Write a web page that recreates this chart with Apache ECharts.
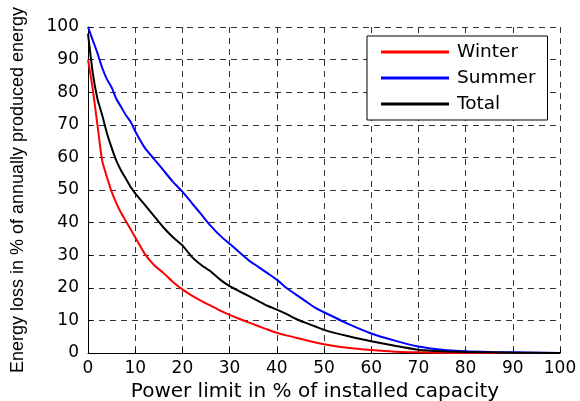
<!DOCTYPE html>
<html>
<head>
<meta charset="utf-8">
<script src="https://cdn.jsdelivr.net/npm/echarts@6/dist/echarts.min.js"></script>
<style>html,body{margin:0;padding:0;background:#fff;}#c{width:580px;height:401px;}</style>
</head>
<body>
<div id="c"></div>
<script>
const powerLimit = [0,1,2,3,4,5,6,7,8,9,10,12,14,16,18,20,22,24,26,28,30,32,34,36,38,40,42,44,46,48,50,55,60,65,70,75,80,85,90,95,100];
const winter = [90,81,70,59,54,49.5,46,43,40.5,38,35.5,30.5,27,24.5,21.8,19.5,17.6,16,14.5,13,11.7,10.5,9.4,8.3,7.2,6.2,5.4,4.7,4.0,3.3,2.7,1.6,0.9,0.4,0.2,0.05,0,0,0,0,0];
const summer = [100,96,92,87.5,84,81.5,78,75.5,73,71,68,63,59.5,56,52.5,49.5,46,42.5,39,36,33.5,31,28.5,26.5,24.5,22.5,20,18,16,14,12.5,9,6,3.8,2,1,0.5,0.3,0.2,0.1,0];
const total = [98,86,78,73,67.5,63,59,56,53.5,51,49,45.5,42,38.5,35.5,33,29.5,27,25,22.5,20.5,19,17.5,16,14.5,13.3,12,10.5,9.3,8.2,7.1,5.2,3.6,2.2,1.0,0.5,0.3,0.2,0.1,0.05,0];
const seriesNames = ['Winter','Summer','Total'];
const xTitle = 'Power limit in % of installed capacity';
const yTitle = 'Energy loss in % of annually produced energy';

const pair = arr => powerLimit.map((x,i) => [x, arr[i]]);
const WIDE = 'DejaVu Sans';
const ARIAL = 'Liberation Sans';
const gridLine = {show:true, lineStyle:{color:'#333', width:1, type:[6,5]}};

const chart = echarts.init(document.getElementById('c'));
chart.setOption({
  animation:false,
  backgroundColor:'#fff',
  grid:{left:88, right:20, top:27, bottom:48, containLabel:false, outerBoundsMode:'none'},
  legend:{
    orient:'vertical', left:367, top:36,
    data:seriesNames,
    icon:'rect', itemWidth:68, itemHeight:3, itemGap:6,
    padding:[6,12,6,14],
    backgroundColor:'#fff', borderColor:'#000', borderWidth:1, borderRadius:0,
    textStyle:{fontFamily:WIDE, fontSize:18.5, color:'#000', lineHeight:20, padding:[0,0,0,3]}
  },
  xAxis:{
    type:'value', min:0, max:100, interval:10,
    name:xTitle, nameLocation:'middle', nameGap:27,
    nameTextStyle:{fontFamily:WIDE, fontSize:20, color:'#000', padding:[0,18,0,0]},
    axisLine:{show:true, lineStyle:{color:'#000', width:1}},
    axisTick:{show:true, inside:true, length:4, lineStyle:{color:'#000'}},
    axisLabel:{fontFamily:WIDE, fontSize:17, color:'#000', margin:7},
    splitLine:gridLine
  },
  yAxis:{
    type:'value', min:0, max:100, interval:10,
    name:yTitle, nameLocation:'middle', nameGap:61, nameRotate:90,
    nameTextStyle:{fontFamily:ARIAL, fontSize:18, color:'#000'},
    axisLine:{show:true, lineStyle:{color:'#000', width:1}},
    axisTick:{show:true, inside:true, length:4, lineStyle:{color:'#000'}},
    axisLabel:{fontFamily:WIDE, fontSize:17, color:'#000', margin:9},
    splitLine:gridLine
  },
  series:[
    {name:seriesNames[0], type:'line', data:pair(winter), showSymbol:false, smooth:0.2, lineStyle:{color:'#ff0000', width:2}, itemStyle:{color:'#ff0000'}},
    {name:seriesNames[1], type:'line', data:pair(summer), showSymbol:false, smooth:0.2, lineStyle:{color:'#0000ff', width:2}, itemStyle:{color:'#0000ff'}},
    {name:seriesNames[2], type:'line', data:pair(total), showSymbol:false, smooth:0.2, lineStyle:{color:'#000000', width:2}, itemStyle:{color:'#000000'}}
  ]
});
</script>
</body>
</html>
